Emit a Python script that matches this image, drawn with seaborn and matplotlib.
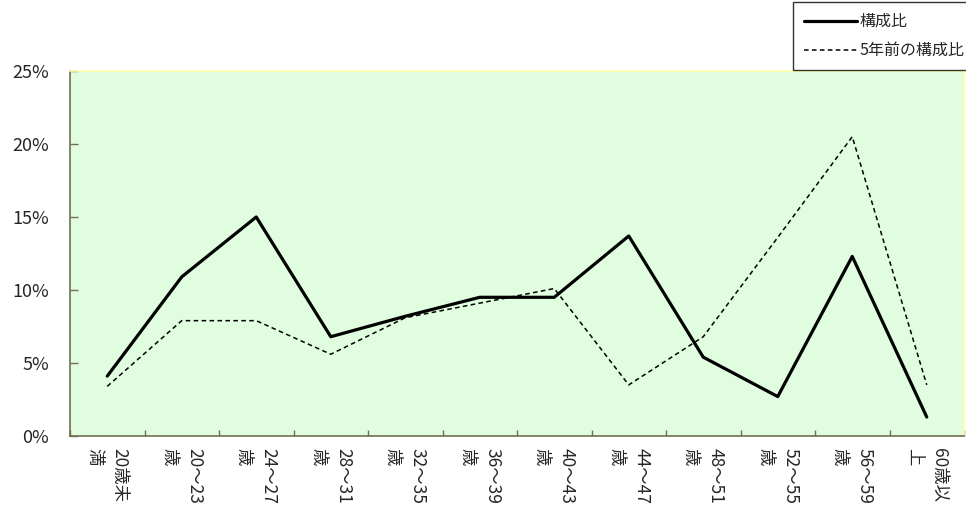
import numpy as np
import pandas as pd
import matplotlib
matplotlib.use('Agg')
import matplotlib.pyplot as plt
from matplotlib.ticker import PercentFormatter
import seaborn as sns

# age groups (two lines each: vertical-style labels)
age_groups = ['20歳未\n満', '20～23\n歳', '24～27\n歳', '28～31\n歳', '32～35\n歳', '36～39\n歳',
              '40～43\n歳', '44～47\n歳', '48～51\n歳', '52～55\n歳', '56～59\n歳', '60歳以\n上']
share_now = [4.1, 10.9, 15.0, 6.8, 8.2, 9.5, 9.5, 13.7, 5.4, 2.7, 12.3, 1.3]
share_5y_ago = [3.4, 7.9, 7.9, 5.6, 8.1, 9.1, 10.1, 3.5, 6.8, 13.6, 20.5, 3.5]

sns.set_style('white')
plt.rcParams['font.family'] = ['Noto Sans CJK JP', 'DejaVu Sans']

df = pd.DataFrame({'pos': np.arange(len(age_groups)),
                   'now': share_now,
                   'ago': share_5y_ago})

fig = plt.figure(figsize=(9.66, 5.07), dpi=100)
ax = fig.add_axes([70 / 966, (507 - 436) / 507, (964 - 70) / 966, (436 - 71) / 507])
ax.set_facecolor('#E0FDE0')

sns.lineplot(data=df, x='pos', y='now', ax=ax, color='black', linewidth=2.3, label='構成比')
sns.lineplot(data=df, x='pos', y='ago', ax=ax, color='black', linewidth=1.1,
             linestyle=(0, (3, 2.2)), label='5年前の構成比')

ax.set_xlim(-0.5, len(age_groups) - 0.5)
ax.set_ylim(0, 25)
ax.set_yticks(np.arange(0, 26, 5))
ax.yaxis.set_major_formatter(PercentFormatter(decimals=0))
ax.tick_params(axis='y', direction='in', length=5.5, width=1, color='#707050',
               labelsize=13, pad=15, left=True)

# ticks between categories, labels at centres
ax.set_xticks(np.arange(-0.5, len(age_groups), 1))
ax.set_xticklabels([])
ax.tick_params(axis='x', which='major', direction='in', length=4, width=1, color='#707050', bottom=True)
ax.set_xticks(np.arange(len(age_groups)), minor=True)
ax.set_xticklabels(age_groups, minor=True, rotation=-90, va='top', ha='center',
                   multialignment='left', fontsize=12.5, linespacing=1.5)
ax.tick_params(axis='x', which='minor', length=0, pad=9)

ax.set_xlabel('')
ax.set_ylabel('')

for s in ['left', 'bottom']:
    ax.spines[s].set_color('#707050')
    ax.spines[s].set_linewidth(1.2)
for s in ['top', 'right']:
    ax.spines[s].set_color('#FFFFA8')
    ax.spines[s].set_linewidth(1.2)

ax.get_legend().remove()
h, l = ax.get_legend_handles_labels()
leg = fig.legend(h, l, loc='upper left', bbox_to_anchor=(793 / 966, 1 - 2 / 507),
                 frameon=True, fancybox=False, fontsize=11.5, handlelength=3.3,
                 handletextpad=0.15, labelspacing=0.75, borderpad=0.7, borderaxespad=0)
leg.get_frame().set_edgecolor('black')
leg.get_frame().set_linewidth(1.0)

fig.savefig('out.png', dpi=100, facecolor='white')
